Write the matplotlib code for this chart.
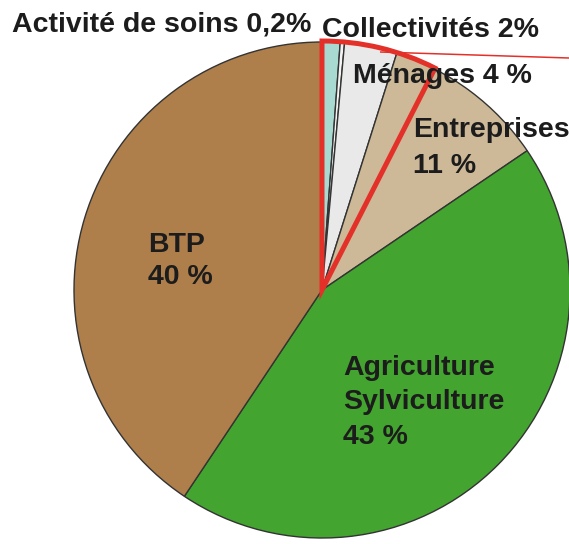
import matplotlib
matplotlib.use("Agg")
import matplotlib.pyplot as plt
from matplotlib.patches import Wedge

# Data (visual shares, clockwise from 12 o'clock)
categories = ["Activité de soins", "Collectivités", "Ménages", "Entreprises",
              "Agriculture Sylviculture", "BTP"]
shares = [1.17, 0.28, 3.42, 10.64, 43.86, 40.64]
colors = ["#a9dad2", "#f4f4f4", "#e9e9e9", "#cdb997", "#43a52f", "#ae7f4b"]
highlight_share = 7.5  # share of the pie covered by the red outline

labels_text = [
    ("Activité de soins 0,2%", 12, 31),
    ("Collectivités 2%", 322, 37),
    ("Ménages 4 %", 353, 83),
    ("Entreprises", 413, 137),
    ("11 %", 413, 173),
    ("BTP", 148, 252),
    ("40 %", 148, 284),
    ("Agriculture", 343, 375),
    ("Sylviculture", 343, 409),
    ("43 %", 343, 444),
]

W, H = 569, 544
fig = plt.figure(figsize=(W / 100, H / 100), dpi=100)
ax = fig.add_axes([0, 0, 1, 1])

cx, cy, R = 322, H - 290, 248
ax.pie(shares, colors=colors, startangle=90, counterclock=False,
       center=(cx, cy), radius=R,
       wedgeprops=dict(edgecolor="#333333", linewidth=1.0))

# red highlight outline
theta_end = 90
theta_start = 90 - 360 * highlight_share / 100
ax.add_patch(Wedge((cx, cy), R + 1, theta_start, theta_end, fill=False,
                   edgecolor="#e3312a", linewidth=3.6, joinstyle="miter",
                   zorder=5))
ax.plot([380, 569], [H - 52, H - 58], color="#e3312a", linewidth=1.1,
        zorder=5, solid_capstyle="butt")

for txt, x, y in labels_text:
    ax.text(x, H - y, txt, ha="left", va="baseline", fontsize=20.5,
            fontweight="bold", family="Liberation Sans", color="#1c1c1c",
            zorder=6)

ax.set_xlim(0, W)
ax.set_ylim(0, H)
ax.set_aspect("equal")
ax.axis("off")

fig.savefig("out.png", dpi=100)
